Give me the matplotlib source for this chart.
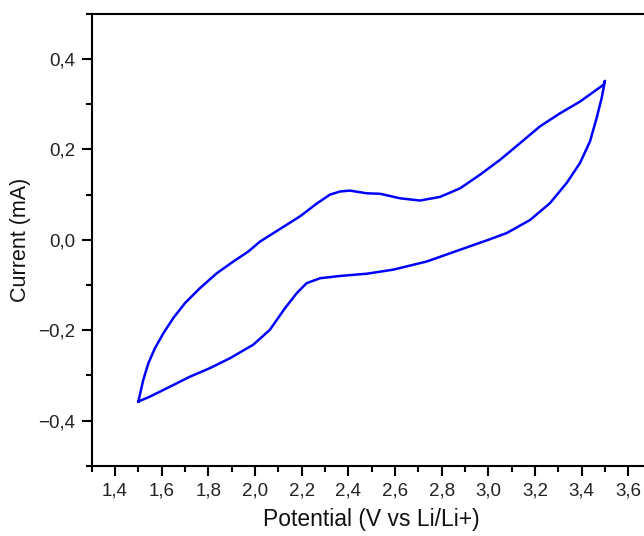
import matplotlib
matplotlib.use('Agg')
import matplotlib.pyplot as plt
from matplotlib.ticker import MultipleLocator, FuncFormatter

plt.rcParams['font.family'] = ['Liberation Sans', 'DejaVu Sans']

# anodic sweep 1.5 -> 3.5 V
v_up = [1.500, 1.521, 1.543, 1.571, 1.607, 1.650, 1.700, 1.764, 1.836, 1.907,
        1.971, 2.021, 2.107, 2.193, 2.264, 2.321, 2.364, 2.407, 2.479, 2.536,
        2.621, 2.707, 2.793, 2.879, 2.964, 3.050, 3.136, 3.221, 3.307, 3.393,
        3.493, 3.500]
i_up = [-0.358, -0.310, -0.273, -0.240, -0.207, -0.173, -0.140, -0.107, -0.074, -0.048,
        -0.026, -0.004, 0.024, 0.052, 0.080, 0.100, 0.107, 0.109, 0.103, 0.102,
        0.092, 0.087, 0.095, 0.114, 0.144, 0.177, 0.214, 0.251, 0.280, 0.306,
        0.343, 0.352]

# cathodic sweep 3.5 -> 1.5 V
v_down = [3.500, 3.486, 3.464, 3.436, 3.393, 3.336, 3.264, 3.179, 3.079, 3.000,
          2.879, 2.736, 2.593, 2.479, 2.364, 2.279, 2.221, 2.179, 2.129, 2.064,
          1.993, 1.893, 1.807, 1.721, 1.636, 1.550, 1.500]
i_down = [0.352, 0.314, 0.269, 0.218, 0.170, 0.126, 0.081, 0.044, 0.015, 0.000,
          -0.022, -0.048, -0.066, -0.075, -0.080, -0.085, -0.096, -0.118, -0.151, -0.199,
          -0.232, -0.262, -0.284, -0.303, -0.325, -0.347, -0.358]

fig = plt.figure(figsize=(6.44, 5.36), dpi=100)
ax = fig.add_axes([0.1424, 0.1312, 0.8694, 0.8427])

ax.plot(v_up + v_down, i_up + i_down, color='#0000ff', lw=1.8,
        solid_joinstyle='round')

ax.set_xlim(1.3, 3.7)
ax.set_ylim(-0.5, 0.5)
ax.xaxis.set_major_locator(MultipleLocator(0.2))
ax.xaxis.set_minor_locator(MultipleLocator(0.1))
ax.yaxis.set_major_locator(MultipleLocator(0.2))
ax.yaxis.set_minor_locator(MultipleLocator(0.1))

comma = FuncFormatter(lambda v, p: f'{v:.1f}'.replace('.', ',').replace('-', '\u2212'))
ax.xaxis.set_major_formatter(comma)
ax.yaxis.set_major_formatter(comma)

ax.tick_params(which='both', direction='out', width=1.5, labelsize=13.5,
               pad=5, labelcolor='#222222')
ax.tick_params(which='major', length=7)
ax.tick_params(which='minor', length=4)
for s in ax.spines.values():
    s.set_linewidth(1.5)

ax.set_xlabel('Potential (V vs Li/Li+)', fontsize=16.5, labelpad=6, color='#111111')
ax.set_ylabel('Current (mA)', fontsize=15.5, labelpad=5, color='#111111')

fig.savefig('out.png', dpi=100)
